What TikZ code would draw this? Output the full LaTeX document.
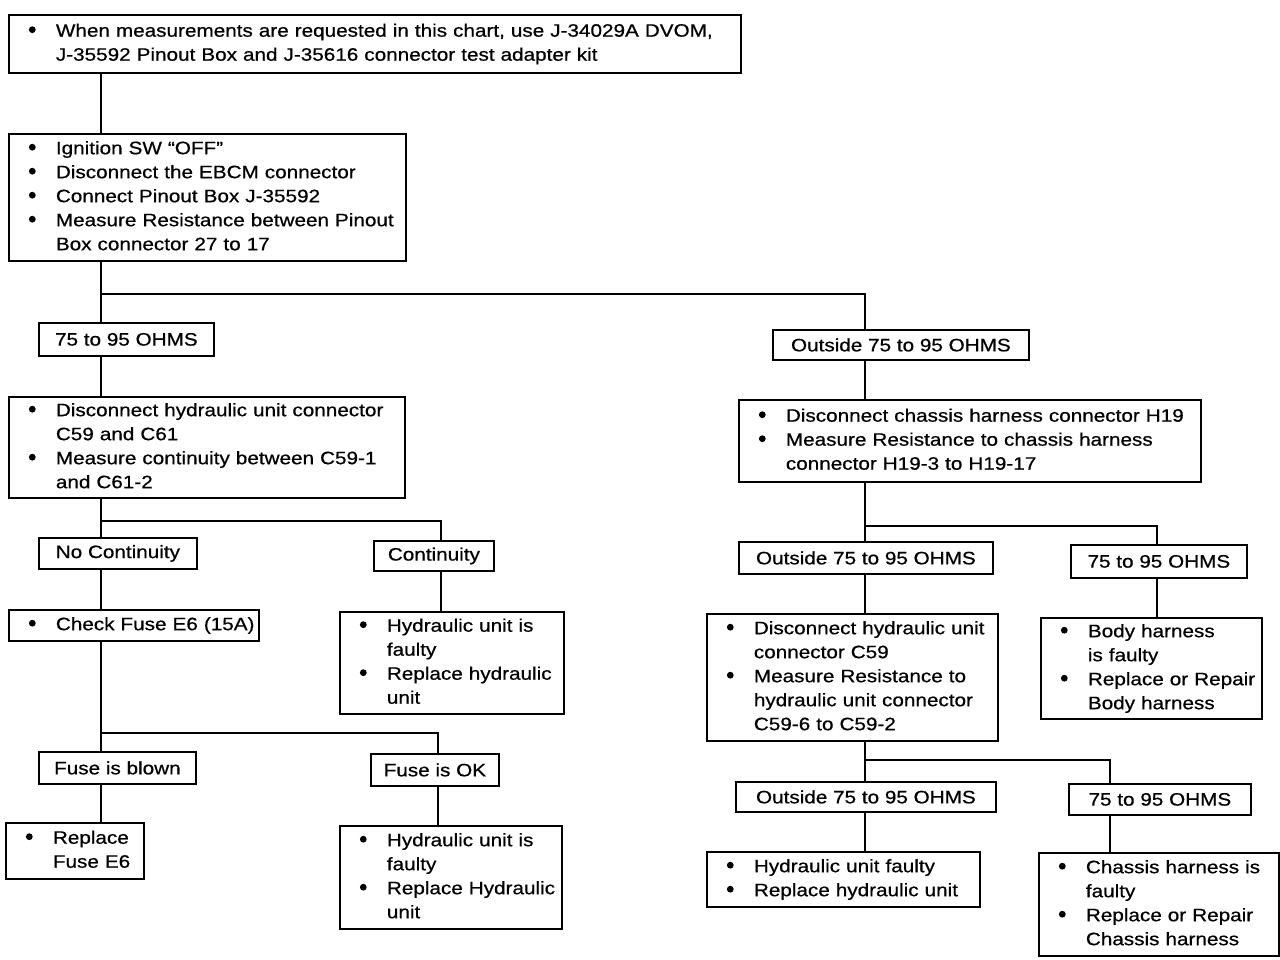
\documentclass[tikz,border=0pt]{standalone}
\usepackage{fontspec}
\setmainfont{Liberation Sans}[FakeStretch=1.15,FakeBold=0.6]
\usetikzlibrary{positioning}

\tikzset{
    listbox/.style={draw,line width=1.8pt,anchor=north west,inner xsep=0pt,inner ysep=0pt,align=left},
    tagbox/.style={draw,line width=1.8pt,anchor=north west,inner sep=0pt},
    wire/.style={line width=1.8pt}
}
\newcommand{\blist}[1]{\noindent\begin{tabular}{@{\hspace{20pt}}p{27pt}@{}l@{}}#1\end{tabular}}
\newcommand{\bt}{\tikz[baseline=-7pt]\fill (0pt,0pt) circle (3.4pt);}

\begin{document}
\begin{tikzpicture}[x=1pt,y=-1pt,font=\fontsize{18}{24}\selectfont]
    \useasboundingbox[fill=white] (0,0) rectangle (1280,960);
    % columns of the trunks
    \coordinate (xa) at (101,0);
    \coordinate (xb) at (441,0);
    \coordinate (xf) at (438,0);
    \coordinate (xc) at (865,0);
    \coordinate (xd) at (1157,0);
    \coordinate (xe) at (1110,0);
    % split points
    \coordinate (s1) at (101,294);
    \coordinate (s2) at (101,521);
    \coordinate (s3) at (101,733);
    \coordinate (s4) at (865,526);
    \coordinate (s5) at (865,760);

    \node[listbox,text width=732pt,minimum height=58pt] (top) at (8,14)
        {\blist{\bt & When measurements are requested in this chart, use J-34029A DVOM,\\
                    & J-35592 Pinout Box and J-35616 connector test adapter kit}};
    \node[listbox,text width=397pt,minimum height=127pt] (ign) at (8,133)
        {\blist{\bt & Ignition SW “OFF”\\
                \bt & Disconnect the EBCM connector\\
                \bt & Connect Pinout Box J-35592\\
                \bt & Measure Resistance between Pinout\\
                    & Box connector 27 to 17}};
    \node[tagbox,minimum width=175pt,minimum height=33pt] (ok1) at (38,322) {75 to 95 OHMS};
    \node[tagbox,minimum width=256pt,minimum height=30pt] (out1) at (772,329) {Outside 75 to 95 OHMS};
    \node[listbox,text width=396pt,minimum height=101pt] (hyd) at (8,396)
        {\blist{\bt & Disconnect hydraulic unit connector\\
                    & C59 and C61\\
                \bt & Measure continuity between C59-1\\
                    & and C61-2}};
    \node[listbox,text width=462pt,minimum height=82pt] (chs) at (738,399)
        {\blist{\bt & Disconnect chassis harness connector H19\\
                \bt & Measure Resistance to chassis harness\\
                    & connector H19-3 to H19-17}};

    % left branch
    \node[tagbox,minimum width=158pt,minimum height=31pt] (nocont) at (38,537) {No Continuity};
    \node[tagbox,minimum width=120pt,minimum height=30pt] (cont) at (373,540) {Continuity};
    \node[listbox,text width=250pt,minimum height=31pt] (fuse) at (8,609)
        {\blist{\bt & Check Fuse E6 (15A)}};
    \node[listbox,text width=224pt,minimum height=102pt] (hydf1) at (339,611)
        {\blist{\bt & Hydraulic unit is\\
                    & faulty\\
                \bt & Replace hydraulic\\
                    & unit}};
    \node[tagbox,minimum width=157pt,minimum height=32pt] (blown) at (38,751) {Fuse is blown};
    \node[tagbox,minimum width=128pt,minimum height=32pt] (fuseok) at (370,753) {Fuse is OK};
    \node[listbox,text width=138pt,minimum height=56pt] (repfuse) at (5,822)
        {\blist{\bt & Replace\\
                    & Fuse E6}};
    \node[listbox,text width=222pt,minimum height=103pt] (hydf2) at (339,825)
        {\blist{\bt & Hydraulic unit is\\
                    & faulty\\
                \bt & Replace Hydraulic\\
                    & unit}};

    % right branch
    \node[tagbox,minimum width=254pt,minimum height=32pt] (out2) at (738,541) {Outside 75 to 95 OHMS};
    \node[tagbox,minimum width=176pt,minimum height=33pt] (ok2) at (1070,544) {75 to 95 OHMS};
    \node[listbox,text width=291pt,minimum height=127pt] (c59) at (706,613)
        {\blist{\bt & Disconnect hydraulic unit\\
                    & connector C59\\
                \bt & Measure Resistance to\\
                    & hydraulic unit connector\\
                    & C59-6 to C59-2}};
    \node[listbox,text width=221pt,minimum height=101pt] (body) at (1040,617)
        {\blist{\bt & Body harness\\
                    & is faulty\\
                \bt & Replace or Repair\\
                    & Body harness}};
    \node[tagbox,minimum width=260pt,minimum height=30pt] (out3) at (735,781) {Outside 75 to 95 OHMS};
    \node[tagbox,minimum width=182pt,minimum height=31pt] (ok3) at (1068,783) {75 to 95 OHMS};
    \node[listbox,text width=273pt,minimum height=55pt] (hydr) at (706,851)
        {\blist{\bt & Hydraulic unit faulty\\
                \bt & Replace hydraulic unit}};
    \node[listbox,text width=240pt,minimum height=103pt] (chsf) at (1038,852)
        {\blist{\bt & Chassis harness is\\
                    & faulty\\
                \bt & Replace or Repair\\
                    & Chassis harness}};

    % connectors
    \draw[wire] (top.south -| xa) -- (ign.north -| xa);
    \draw[wire] (ign.south -| xa) -- (ok1.north -| xa);
    \draw[wire] (s1) -| (out1.north -| xc);
    \draw[wire] (ok1.south -| xa) -- (hyd.north -| xa);
    \draw[wire] (out1.south -| xc) -- (chs.north -| xc);
    \draw[wire] (hyd.south -| xa) -- (nocont.north -| xa);
    \draw[wire] (s2) -| (cont.north -| xb);
    \draw[wire] (nocont.south -| xa) -- (fuse.north -| xa);
    \draw[wire] (cont.south -| xb) -- (hydf1.north -| xb);
    \draw[wire] (fuse.south -| xa) -- (blown.north -| xa);
    \draw[wire] (s3) -| (fuseok.north -| xf);
    \draw[wire] (blown.south -| xa) -- (repfuse.north -| xa);
    \draw[wire] (fuseok.south -| xf) -- (hydf2.north -| xf);
    \draw[wire] (chs.south -| xc) -- (out2.north -| xc);
    \draw[wire] (s4) -| (ok2.north -| xd);
    \draw[wire] (out2.south -| xc) -- (c59.north -| xc);
    \draw[wire] (ok2.south -| xd) -- (body.north -| xd);
    \draw[wire] (c59.south -| xc) -- (out3.north -| xc);
    \draw[wire] (s5) -| (ok3.north -| xe);
    \draw[wire] (out3.south -| xc) -- (hydr.north -| xc);
    \draw[wire] (ok3.south -| xe) -- (chsf.north -| xe);
\end{tikzpicture}
\end{document}
